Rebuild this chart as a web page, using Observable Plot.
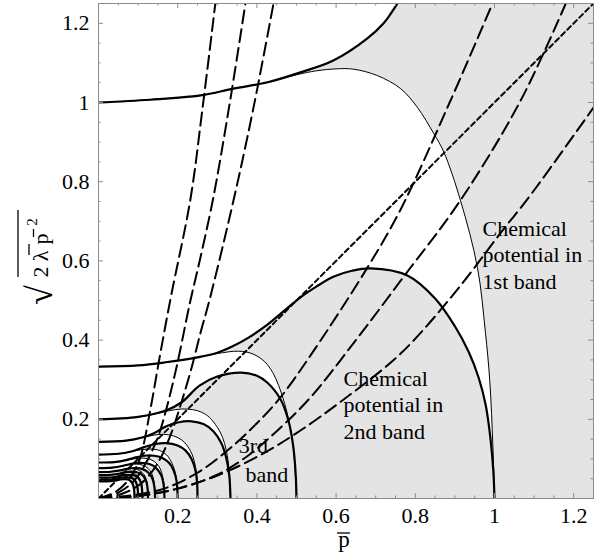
<!DOCTYPE html>
<html>
<head>
<meta charset="utf-8">
<script src="https://cdn.jsdelivr.net/npm/d3@7"></script>
<script src="https://cdn.jsdelivr.net/npm/@observablehq/plot@0.6"></script>
<style>
html,body{margin:0;padding:0;background:#fff;}
</style>
</head>
<body>
<div id="chart"></div>
<script>
// ---- band boundary curves: [p, sqrt(2 lambda p^2)] ----
// bold upper boundaries B_n and thin lower boundaries T_n of band n
const B1 = [[0,1.0],[0.13,1.007],[0.258,1.018],[0.341,1.035],[0.427,1.051],[0.51,1.076],[0.593,1.106],[0.679,1.162],[0.72,1.2],[0.755,1.25]];
const T1 = [[0,1.0],[0.13,1.007],[0.258,1.018],[0.341,1.035],[0.427,1.051],[0.5,1.07],[0.55,1.08],[0.6,1.085],[0.645,1.084],[0.704,1.068],[0.763,1.035],[0.805,0.988],[0.847,0.921],[0.872,0.875],[0.914,0.753],[0.957,0.583],[0.977,0.42],[0.988,0.298],[0.996,0.13],[1.0,0]];
const B2 = [[0,0.333],[0.1,0.336],[0.17,0.344],[0.253,0.357],[0.3,0.368],[0.34,0.385],[0.38,0.407],[0.424,0.437],[0.47,0.475],[0.51,0.508],[0.55,0.535],[0.593,0.56],[0.64,0.575],[0.687,0.581],[0.78,0.563],[0.85,0.505],[0.9,0.435],[0.935,0.37],[0.96,0.305],[0.978,0.235],[0.99,0.15],[0.997,0.07],[1.0,0]];
const T2 = [[0,0.333],[0.1,0.336],[0.17,0.344],[0.253,0.357],[0.3,0.366],[0.354,0.372],[0.39,0.365],[0.42,0.345],[0.44,0.318],[0.455,0.285],[0.47,0.24],[0.48,0.2],[0.49,0.145],[0.496,0.08],[0.5,0]];
const B3 = [[0,0.2],[0.1,0.206],[0.17,0.222],[0.21,0.243],[0.255,0.285],[0.3,0.308],[0.36,0.318],[0.4,0.31],[0.426,0.293],[0.46,0.25],[0.48,0.195],[0.492,0.13],[0.498,0.06],[0.5,0]];
const T3 = [[0,0.2],[0.1,0.206],[0.15,0.215],[0.18,0.222],[0.21,0.226],[0.24,0.224],[0.26,0.218],[0.28,0.205],[0.3,0.18],[0.313,0.155],[0.323,0.12],[0.33,0.07],[0.3333,0]];
const B4 = [[0,0.143],[0.07,0.146],[0.11,0.154],[0.14,0.165],[0.17,0.182],[0.2,0.192],[0.235,0.195],[0.265,0.188],[0.29,0.17],[0.31,0.14],[0.322,0.105],[0.33,0.06],[0.3333,0]];
const T4 = [[0,0.143],[0.07,0.146],[0.11,0.154],[0.14,0.16],[0.165,0.162],[0.19,0.158],[0.21,0.148],[0.225,0.132],[0.237,0.11],[0.245,0.08],[0.249,0.045],[0.25,0]];
const B5 = [[0,0.111],[0.05,0.113],[0.08,0.118],[0.11,0.128],[0.14,0.137],[0.17,0.14],[0.2,0.134],[0.22,0.121],[0.235,0.1],[0.245,0.07],[0.249,0.04],[0.25,0]];
const T5 = [[0,0.111],[0.05,0.113],[0.08,0.118],[0.1,0.122],[0.13,0.125],[0.155,0.121],[0.172,0.11],[0.185,0.09],[0.194,0.065],[0.198,0.035],[0.2,0]];
const B6 = [[0,0.0909],[0.04,0.092],[0.07,0.097],[0.09,0.103],[0.115,0.108],[0.14,0.108],[0.16,0.103],[0.178,0.09],[0.19,0.07],[0.197,0.045],[0.2,0]];
const T6 = [[0,0.0909],[0.04,0.092],[0.07,0.097],[0.09,0.1],[0.11,0.102],[0.13,0.099],[0.145,0.09],[0.156,0.075],[0.162,0.055],[0.166,0.03],[0.1667,0]];
const B7 = [[0,0.0769],[0.035,0.078],[0.06,0.082],[0.08,0.087],[0.1,0.09],[0.12,0.089],[0.138,0.083],[0.15,0.072],[0.159,0.057],[0.164,0.038],[0.1667,0]];
const T7 = [[0,0.0769],[0.035,0.078],[0.06,0.082],[0.08,0.086],[0.095,0.087],[0.112,0.084],[0.125,0.076],[0.134,0.064],[0.139,0.048],[0.142,0.027],[0.1429,0]];
const B8 = [[0,0.0667],[0.03,0.0675],[0.055,0.071],[0.072,0.075],[0.09,0.077],[0.105,0.076],[0.12,0.07],[0.13,0.061],[0.137,0.048],[0.141,0.03],[0.1429,0]];
const T8 = [[0,0.0667],[0.03,0.0675],[0.055,0.071],[0.07,0.074],[0.083,0.0755],[0.098,0.073],[0.11,0.066],[0.118,0.055],[0.122,0.042],[0.124,0.024],[0.125,0]];
const B9 = [[0,0.0588],[0.03,0.0595],[0.05,0.062],[0.065,0.066],[0.08,0.068],[0.095,0.067],[0.107,0.062],[0.116,0.053],[0.121,0.042],[0.124,0.025],[0.125,0]];
const T9 = [[0,0.0588],[0.03,0.0595],[0.05,0.062],[0.063,0.065],[0.075,0.066],[0.088,0.064],[0.098,0.058],[0.105,0.048],[0.109,0.036],[0.1105,0.02],[0.1111,0]];
const B10 = [[0,0.0526],[0.03,0.053],[0.045,0.055],[0.06,0.059],[0.075,0.06],[0.088,0.059],[0.097,0.055],[0.104,0.047],[0.108,0.037],[0.11,0.022],[0.1111,0]];
const T10 = [[0,0.0526],[0.03,0.053],[0.045,0.055],[0.058,0.058],[0.068,0.059],[0.08,0.057],[0.089,0.052],[0.095,0.043],[0.098,0.032],[0.0995,0.018],[0.1,0]];
const B11 = [[0,0.0476],[0.03,0.048],[0.045,0.05],[0.058,0.053],[0.07,0.054],[0.08,0.053],[0.088,0.049],[0.094,0.042],[0.098,0.03],[0.0995,0.017],[0.1,0]];
const T11 = [[0,0.0476],[0.03,0.048],[0.045,0.05],[0.055,0.052],[0.063,0.053],[0.073,0.051],[0.081,0.046],[0.087,0.038],[0.09,0.026],[0.0905,0.015],[0.0909,0]];
const B12 = [[0,0.0435],[0.03,0.044],[0.045,0.046],[0.055,0.048],[0.065,0.049],[0.074,0.048],[0.081,0.044],[0.086,0.037],[0.089,0.027],[0.0905,0.015],[0.0909,0]];

// ---- long-dashed trajectories ----
const D1 = [[0,0],[0.04,0.015],[0.07,0.04],[0.09,0.07],[0.106,0.105],[0.131,0.225],[0.155,0.36],[0.183,0.51],[0.232,0.755],[0.262,0.98],[0.295,1.25]];
const D2 = [[0,0],[0.05,0.015],[0.09,0.045],[0.12,0.09],[0.15,0.155],[0.175,0.24],[0.2,0.345],[0.23,0.49],[0.26,0.62],[0.29,0.76],[0.33,0.99],[0.371,1.25]];
const D3 = [[0,0],[0.06,0.012],[0.11,0.04],[0.15,0.09],[0.18,0.155],[0.207,0.235],[0.235,0.33],[0.258,0.42],[0.28,0.5],[0.341,0.753],[0.39,0.98],[0.442,1.25]];
const D4 = [[0,0],[0.15,0.02],[0.25,0.065],[0.33,0.125],[0.4,0.19],[0.46,0.256],[0.544,0.374],[0.679,0.583],[0.763,0.73],[0.889,1.005],[0.995,1.25]];
const D5 = [[0,0],[0.1,0.006],[0.2,0.025],[0.3,0.06],[0.38,0.11],[0.45,0.17],[0.535,0.255],[0.65,0.4],[0.763,0.55],[0.914,0.753],[1.066,1.005],[1.18,1.25]];
const D6 = [[0,0],[0.1,0.006],[0.2,0.025],[0.3,0.058],[0.4,0.105],[0.5,0.165],[0.619,0.25],[0.763,0.366],[0.9,0.52],[1.015,0.67],[1.09,0.765],[1.25,0.987]];
// ---- short-dashed line ----
const S1 = [[0,0],[1.25,1.25]];

// ---- axes ----
const xTicks = [0.2,0.4,0.6,0.8,1,1.2];
const xTickLabels = ["0.2","0.4","0.6","0.8","1","1.2"];
const yTicks = [0.2,0.4,0.6,0.8,1,1.2];
const yTickLabels = ["0.2","0.4","0.6","0.8","1","1.2"];
const minorTicks = [0.05,0.1,0.15,0.25,0.3,0.35,0.45,0.5,0.55,0.65,0.7,0.75,0.85,0.9,0.95,1.05,1.1,1.15];

const upper = [B1,B2,B3,B4,B5,B6,B7,B8,B9,B10,B11];
const lower = [T1,T2,T3,T4,T5,T6,T7,T8,T9,T10,T11];
const bold = [B1,B2,B3,B4,B5,B6,B7,B8,B9,B10,B11,B12];
const thin = [T1,T2,T3,T4,T5,T6,T7,T8,T9,T10,T11];
const longDash = [D1,D2,D3,D4,D5,D6];

// gray band regions: between T_n (below) and B_n (above)
const regions = upper.map((B, i) => {
  const T = lower[i];
  const pts = i === 0 ? [...T, [1.25,0],[1.25,1.25], ...B.slice().reverse()] : [...T, ...B.slice().reverse()];
  return pts.map(([p, y]) => ({p, y, band: i}));
});

const FONT = "'Liberation Serif','Times New Roman','DejaVu Serif',serif";
const GRAY = "#8c8c8c";
const X = d => d[0], Y = d => d[1];

const marks = [];
for (const r of regions) marks.push(Plot.line(r, {x: "p", y: "y", fill: "#e4e4e4", stroke: "none", curve: "catmull-rom", clip: true}));
for (const T of thin) marks.push(Plot.line(T, {x: X, y: Y, stroke: "black", strokeWidth: 1, curve: "catmull-rom", clip: true}));
for (const B of bold) marks.push(Plot.line(B, {x: X, y: Y, stroke: "black", strokeWidth: 2.2, curve: "catmull-rom", clip: true}));
for (const D of longDash) marks.push(Plot.line(D, {x: X, y: Y, stroke: "black", strokeWidth: 2, strokeDasharray: "13,6", curve: "catmull-rom", clip: true}));
marks.push(Plot.line(S1, {x: X, y: Y, stroke: "black", strokeWidth: 2, strokeDasharray: "5,3.5", clip: true}));

// annotations
const txt = {fontSize: 22, fontFamily: FONT, fill: "black", textAnchor: "start", lineAnchor: "top", lineHeight: 1.2};
marks.push(Plot.text(["Chemical\npotential in\n1st band"], {...txt, x: 0.97, y: 0.71}));
marks.push(Plot.text(["Chemical\npotential in\n2nd band"], {...txt, x: 0.619, y: 0.332}));
marks.push(Plot.text(["3rd"], {...txt, x: 0.354, y: 0.162}));
marks.push(Plot.text(["band"], {...txt, x: 0.371, y: 0.0899}));

// frame ticks (inward, Mathematica style)
marks.push(Plot.tickX(xTicks, {x: d => d, stroke: GRAY, insetTop: 490}));
marks.push(Plot.tickX(xTicks, {x: d => d, stroke: GRAY, insetBottom: 490}));
marks.push(Plot.tickX(minorTicks, {x: d => d, stroke: GRAY, insetTop: 492.5}));
marks.push(Plot.tickX(minorTicks, {x: d => d, stroke: GRAY, insetBottom: 492.5}));
marks.push(Plot.tickY(yTicks, {y: d => d, stroke: GRAY, insetRight: 490}));
marks.push(Plot.tickY(yTicks, {y: d => d, stroke: GRAY, insetLeft: 490}));
marks.push(Plot.tickY(minorTicks, {y: d => d, stroke: GRAY, insetRight: 492.5}));
marks.push(Plot.tickY(minorTicks, {y: d => d, stroke: GRAY, insetLeft: 492.5}));
marks.push(Plot.frame({stroke: GRAY, strokeWidth: 1}));

// tick labels
marks.push(Plot.text(xTicks, {x: d => d, y: 0, text: (d, i) => xTickLabels[i], fontSize: 22, fontFamily: FONT, lineAnchor: "top", dy: 9, clip: false}));
marks.push(Plot.text(yTicks, {x: 0, y: d => d, text: (d, i) => yTickLabels[i], fontSize: 22, fontFamily: FONT, textAnchor: "end", dx: -9}));
// x-axis label p (bar added below)
marks.push(Plot.text(["p"], {frameAnchor: "bottom", fontSize: 23, fontFamily: FONT, lineAnchor: "bottom", dy: 48, dx: -2}));

const svg = Plot.plot({
  width: 606, height: 553,
  marginLeft: 98, marginRight: 13, marginTop: 3, marginBottom: 55,
  x: {domain: [0, 1.25], axis: null},
  y: {domain: [0, 1.25], axis: null},
  style: {fontFamily: FONT, background: "white", color: "black", overflow: "visible"},
  marks
});
document.getElementById("chart").append(svg);

// decorations for the axis labels: overbars and the radical's vinculum
const s = d3.select(svg);
s.append("line").attr("x1", 337).attr("x2", 350).attr("y1", 533).attr("y2", 533).attr("stroke", "black").attr("stroke-width", 1.3);

const g = s.append("g").attr("transform", "translate(48,278) rotate(-90)")
  .attr("font-family", FONT).attr("fill", "black");
g.append("text").attr("x", -17).attr("y", 4).attr("font-size", 36).text("\u221A");
const t = g.append("text").attr("font-size", 22).attr("y", 0);
t.append("tspan").attr("x", 6).text("2");
t.append("tspan").attr("x", 22).text("\u03BB");
t.append("tspan").attr("x", 39).text("p");
t.append("tspan").attr("x", 56).attr("dy", -11).attr("font-size", 15).text("2");
g.append("line").attr("x1", 23).attr("x2", 34).attr("y1", -19).attr("y2", -19).attr("stroke", "black").attr("stroke-width", 1.3);
g.append("line").attr("x1", 41).attr("x2", 49).attr("y1", -14.5).attr("y2", -14.5).attr("stroke", "black").attr("stroke-width", 1.3);
g.append("line").attr("x1", 1).attr("x2", 68).attr("y1", -30).attr("y2", -30).attr("stroke", "black").attr("stroke-width", 1.3);
</script>
</body>
</html>
